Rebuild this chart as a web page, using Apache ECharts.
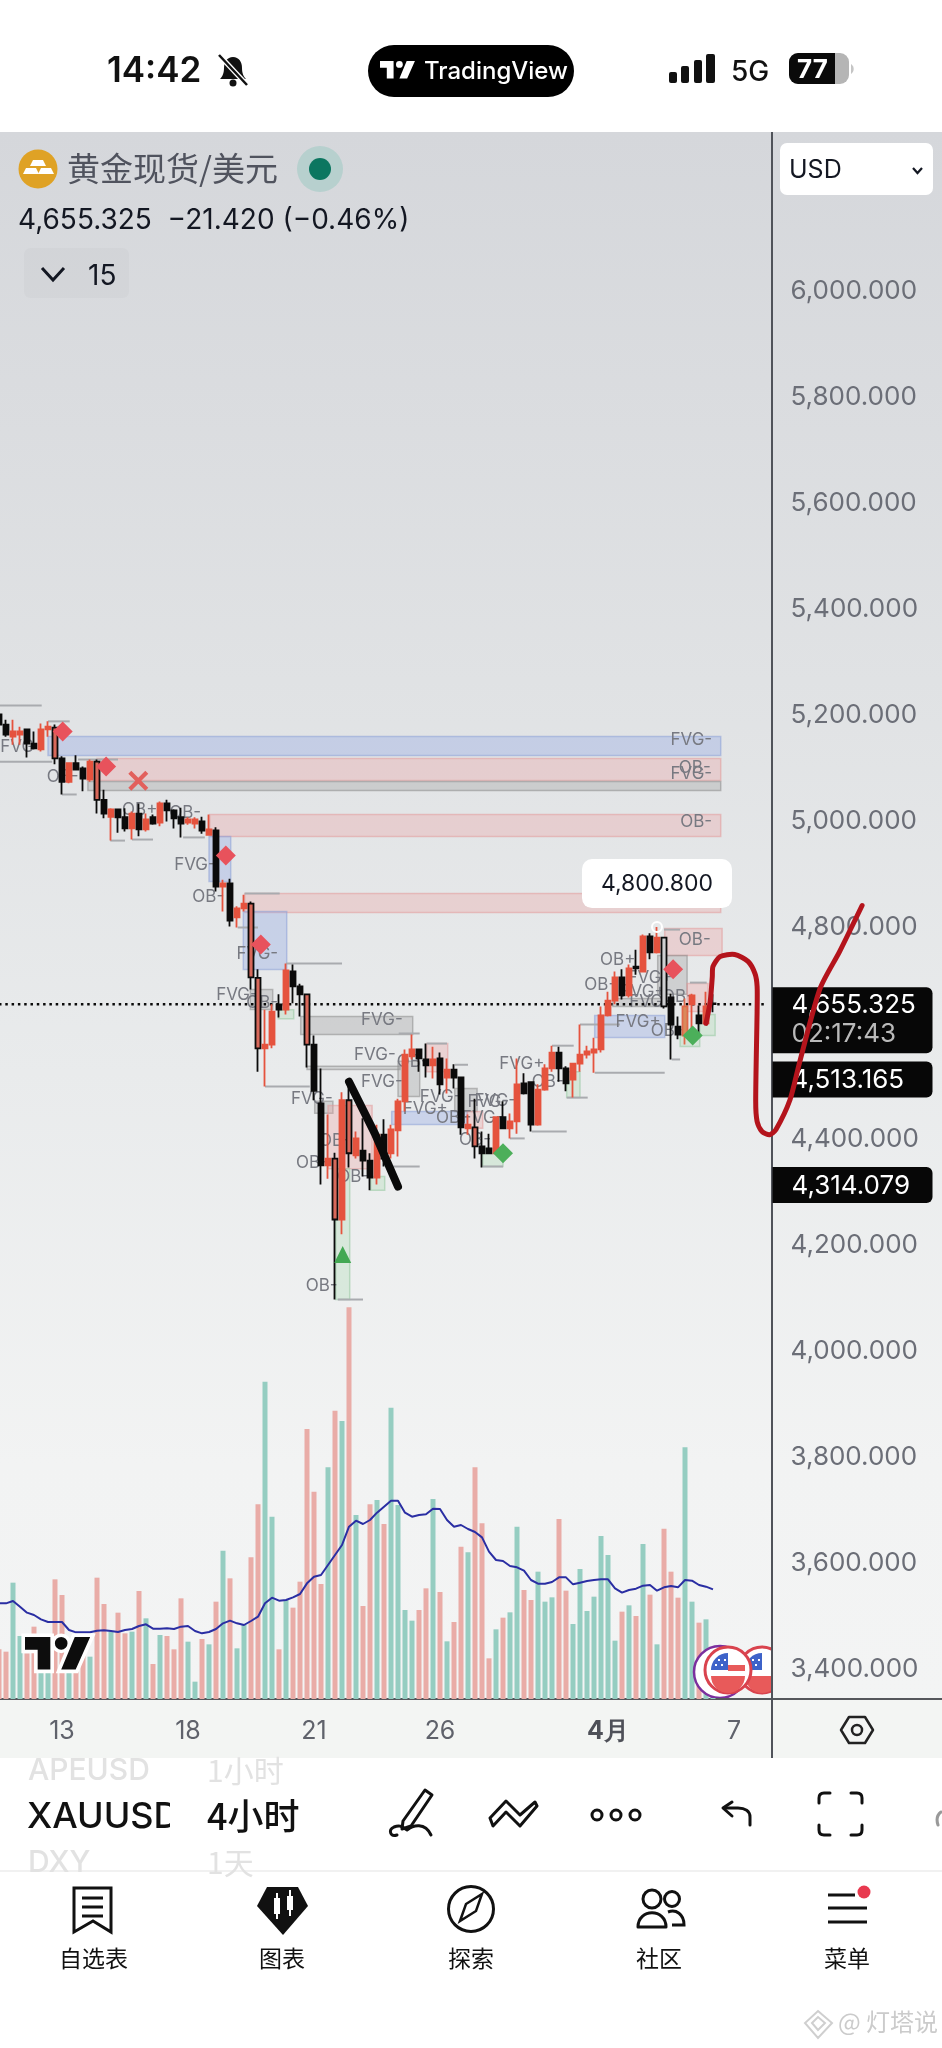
<!DOCTYPE html>
<html>
<head>
<meta charset="UTF-8">
<title>黄金现货/美元</title>
<style type="text/css">
html, body {
	margin: 0;
	padding: 0;
	background: #fff;
}
#page {
	position: relative;
	width: 942px;
	height: 2048px;
	overflow: hidden;
	font-family: Inter, "Noto Sans CJK SC", sans-serif;
}
#chartBg {
	position: absolute;
	left: 0;
	top: 132px;
	width: 942px;
	height: 1568px;
	background: linear-gradient(to bottom, #d5d7db 0%, #e0e2e4 35%, #e9ebec 60%, #f2f3f3 85%, #f3f4f4 100%);
}
#timeBg {
	position: absolute;
	left: 0;
	top: 1700px;
	width: 942px;
	height: 58px;
	background: #f3f5f3;
}
#axisV {
	position: absolute;
	left: 771px;
	top: 132px;
	width: 2px;
	height: 1626px;
	background: #50535a;
}
#axisH {
	position: absolute;
	left: 0;
	top: 1698px;
	width: 942px;
	height: 2px;
	background: #55575c;
}
#main {
	position: absolute;
	left: 0;
	top: 0;
	width: 942px;
	height: 2048px;
}
#icons {
	position: absolute;
	left: 0;
	top: 0;
}
.t {
	position: absolute;
	white-space: nowrap;
	line-height: 1;
}
</style>
</head>
<body>
<div id="page">
	<div id="chartBg"></div>
	<div id="timeBg"></div>
	<div id="axisH"></div>
	<div id="axisV"></div>
	<div id="main"></div>

	<!-- 图标层 -->
	<svg id="icons" width="942" height="2048" viewBox="0 0 942 2048">
		<defs>
			<clipPath id="flagClip"><rect x="680" y="1630" width="91" height="68"/></clipPath>
		</defs>
		<!-- 状态栏 -->
		<path d="M233 57c-6 0-9 5-9 11 0 6-2 9-4 11h26c-2-2-4-5-4-11 0-6-3-11-9-11z" fill="#111"/>
		<circle cx="233" cy="83" r="3.5" fill="#111"/>
		<line x1="220" y1="56" x2="248" y2="86" stroke="#fff" stroke-width="5"/>
		<line x1="219" y1="55" x2="247" y2="85" stroke="#111" stroke-width="2.5"/>
		<rect x="368" y="45" width="206" height="52" rx="26" fill="#000"/>
		<g fill="#fff" transform="translate(380,61) scale(0.97)">
			<path d="M14 18H7V7H0V0h14v18Z M28 18h-8L27.5 0H36l-8 18Z"/><circle cx="20" cy="3.5" r="3.5"/>
		</g>
		<g fill="#111">
			<rect x="669" y="72" width="8" height="11" rx="2"/>
			<rect x="681" y="66" width="8" height="17" rx="2"/>
			<rect x="694" y="60" width="8" height="23" rx="2"/>
			<rect x="706" y="54" width="9" height="29" rx="2"/>
		</g>
		<rect x="789" y="53" width="60" height="31" rx="9" fill="#b5b5b5"/>
		<path d="M798 53h37v31h-37a9 9 0 0 1-9-9v-13a9 9 0 0 1 9-9z" fill="#0a0a0a"/>
		<path d="M851 64a6 6 0 0 1 0 10z" fill="#c5c5c5"/>

		<!-- 品种图标 -->
		<circle cx="38" cy="169" r="19.5" fill="#dfa225"/>
		<g fill="#fff">
			<path d="M33 160h10l3 6H30z"/>
			<path d="M26 168h10l3 6H23z"/>
			<path d="M41 168h10l3 6H38z"/>
		</g>
		<circle cx="320" cy="169" r="23" fill="#b7d0ce"/>
		<circle cx="320" cy="169" r="11" fill="#0c7660"/>
		<rect x="24" y="248" width="105" height="50" rx="6" fill="#000" fill-opacity="0.02"/>
		<path d="M42 268l11 12 11-12" fill="none" stroke="#131722" stroke-width="3"/>
		<rect x="780" y="143" width="153" height="52" rx="7" fill="#fff"/>
		<path d="M913 168l4.500 5 4.500-5" fill="none" stroke="#131722" stroke-width="2.200"/>

		<!-- 时间轴右侧设置 -->
		<path d="M849 1717h16l8 13-8 13h-16l-8-13z" fill="none" stroke="#222" stroke-width="2.500" stroke-linejoin="round"/>
		<circle cx="857" cy="1730" r="5" fill="none" stroke="#222" stroke-width="2.500"/>

		<!-- 工具栏 -->
		<g fill="none" stroke="#111" stroke-width="3" stroke-linejoin="round" stroke-linecap="round">
			<path d="M403 1821l22-31 7 5-21 31-9 3z"/>
			<path d="M397 1835c-7 2-9-5-3-8 7-3 9 1 13 3 6-5 18-8 24 5"/>
			<path d="M490 1818l16-17 14 14 15-13 2 4-17 20-14-14-13 14z"/>
			<circle cx="597" cy="1815" r="5"/>
			<circle cx="616" cy="1815" r="5"/>
			<circle cx="635" cy="1815" r="5"/>
			<path d="M750 1825v-8c0-6-5-9-12-9h-14"/>
			<path d="M732 1802l-9 6 9 8"/>
			<path d="M819 1803v-5q0-5 5-5h6M851 1793h6q5 0 5 5v5M862 1825v5q0 5-5 5h-6M830 1835h-6q-5 0-5-5v-5"/>
			<path d="M938 1825c-2-6-1-10 3-13" stroke="#999"/>
		</g>
		<line x1="0" y1="1871" x2="942" y2="1871" stroke="#ededed" stroke-width="1.500"/>

		<!-- 底部导航 -->
		<g fill="none" stroke="#111" stroke-width="3">
			<path d="M74 1888h37v44l-18-11-19 11z"/>
			<path d="M82 1898h21M82 1907h21M82 1916h21"/>
			<circle cx="471" cy="1909" r="22.500"/>
			<path d="M460 1921l6-17 16-10-6 17z" stroke-width="2.500"/>
			<circle cx="652" cy="1899" r="9"/>
			<circle cx="672" cy="1899" r="7.500"/>
			<path d="M638 1927c0-19 28-19 28 0 0 0-28 0-28 0z" stroke-linejoin="round"/>
			<path d="M668 1912c8-3 16 2 16 13h-12"/>
			<path d="M828 1895h27M828 1908h39M828 1922h39"/>
		</g>
		<path d="M257 1906l10-19h31l10 19-25 29z" fill="#111"/>
		<g fill="#fff">
			<rect x="274" y="1898" width="6" height="16"/><rect x="276" y="1893" width="2" height="26"/>
			<rect x="287" y="1896" width="6" height="14"/><rect x="289" y="1890" width="2" height="26"/>
		</g>
		<circle cx="864" cy="1892" r="6.500" fill="#e8394f"/>

		<!-- 水印 -->
		<path d="M818 2011l14 12-14 15-13-15z M812 2023l6-6 7 6-7 7z" fill="none" stroke="#cfcfcf" stroke-width="2"/>

		<!-- TV 标记 -->
		<g transform="translate(25,1637) scale(1.810)">
			<path d="M14 18H7V7H0V0h14v18Z M28 18h-8L27.5 0H36l-8 18Z M23.500 3.500a3.500 3.500 0 1 1-7 0a3.500 3.500 0 1 1 7 0Z" fill="#0d0d0d" stroke="#fff" stroke-width="4" paint-order="stroke"/>
		</g>

		<!-- 事件图标 -->
		<g clip-path="url(#flagClip)">
			<circle cx="720" cy="1672" r="26" fill="#fff" stroke="#7b2f9e" stroke-width="2.500"/>
			<g>
				<circle cx="762" cy="1670" r="23" fill="#fff" stroke="#d9434e" stroke-width="3"/>
				<path d="M745 1676h34a17 17 0 0 1-34 0z" fill="#e85a5a"/>
				<path d="M745 1670a17 17 0 0 1 17-17v17z" fill="#3e63c9"/>
				<path d="M752 1659h2v2h-2zM758 1659h2v2h-2zM749 1664h2v2h-2zM755 1664h2v2h-2z" fill="#fff"/>
			</g>
			<g>
				<circle cx="728" cy="1670" r="23" fill="#fff" stroke="#d9434e" stroke-width="3"/>
				<path d="M711 1676h34a17 17 0 0 1-34 0z" fill="#e85a5a"/>
				<path d="M728 1665h17v6h-17z" fill="#e85a5a"/>
				<path d="M711 1670a17 17 0 0 1 17-17v17z" fill="#3e63c9"/>
				<path d="M718 1659h2v2h-2zM724 1659h2v2h-2zM715 1664h2v2h-2zM721 1664h2v2h-2z" fill="#fff"/>
			</g>
		</g>
	</svg>

	<!-- 文字层 -->
	<span class="t" style="left:107px;top:52px;font-size:35px;font-weight:600;color:#111">14:42</span>
	<span class="t" style="left:424px;top:59px;font-size:24px;font-weight:500;color:#fff">TradingView</span>
	<span class="t" style="left:731px;top:57px;font-size:28px;font-weight:500;color:#111">5G</span>
	<span class="t" style="left:797px;top:56px;font-size:26px;font-weight:700;color:#fff">77</span>
	<span class="t" style="left:67px;top:151px;font-size:33px;color:#50535e;font-family:'Noto Sans CJK SC'">黄金现货/美元</span>
	<span class="t" style="left:18px;top:205px;font-size:28px;color:#131722">4,655.325&nbsp;&nbsp;−21.420 (−0.46%)</span>
	<span class="t" style="left:88px;top:261px;font-size:28px;color:#131722">15</span>
	<span class="t" style="left:789px;top:157px;font-size:25px;color:#131722">USD</span>

	<span class="t" style="left:28px;top:1754px;font-size:30px;color:#e2e2e2;font-weight:500">APEUSD</span>
	<span class="t" style="left:207px;top:1754px;font-size:30px;color:#e2e2e2;font-family:'Noto Sans CJK SC'">1小时</span>
	<span class="t" style="left:27px;top:1797px;font-size:36px;color:#111;font-weight:500;width:143px;overflow:hidden">XAUUSD</span>
	<span class="t" style="left:207px;top:1796px;font-size:36px;color:#111;font-weight:500;font-family:'Noto Sans CJK SC'">4小时</span>
	<span class="t" style="left:28px;top:1846px;font-size:30px;color:#e2e2e2;font-weight:500">DXY</span>
	<span class="t" style="left:207px;top:1846px;font-size:30px;color:#e2e2e2;font-family:'Noto Sans CJK SC'">1天</span>

	<span class="t" style="left:59px;top:1946px;font-size:23px;color:#111;font-family:'Noto Sans CJK SC'">自选表</span>
	<span class="t" style="left:259px;top:1946px;font-size:23px;color:#111;font-family:'Noto Sans CJK SC'">图表</span>
	<span class="t" style="left:448px;top:1946px;font-size:23px;color:#111;font-family:'Noto Sans CJK SC'">探索</span>
	<span class="t" style="left:636px;top:1946px;font-size:23px;color:#111;font-family:'Noto Sans CJK SC'">社区</span>
	<span class="t" style="left:824px;top:1946px;font-size:23px;color:#111;font-family:'Noto Sans CJK SC'">菜单</span>
	<span class="t" style="left:838px;top:2009px;font-size:24px;color:#cbcbcb;font-family:'Noto Sans CJK SC'">@ 灯塔说</span>
</div>

<script type="text/javascript" src="https://cdn.jsdelivr.net/npm/echarts@6/dist/echarts.min.js"></script>
<script type="text/javascript">
	//K线数据 kind: 0红 1黑 2黑框红芯 3橙 4黑框浅芯
	var bodyTop = [
		5202,5183,5170,5170,5174,5147,5174,5179,5177,5119,
		5110,5110,5100,5113,5113,5041,5023,5023,5008,5015,
		5015,5004,5008,5034,5034,5021,5008,5004,5004,5000,
		4985,4983,4883,4883,4836,4845,4845,4705,4579,4641,
		4655,4719,4717,4689,4674,4579,4468,4364,4364,4474,
		4474,4402,4379,4360,4409,4409,4419,4472,4560,4570,
		4570,4551,4551,4553,4532,4532,4517,4428,4423,4387,
		4383,4442,4442,4434,4504,4506,4508,4494,4534,4564,
		4564,4534,4543,4560,4566,4570,4634,4662,4706,4706,
		4723,4726,4783,4783,4781,4781,4668,4613,4651,4672,
		4634,4651,4657
	];
	var bodyBottom = [
		5183,5164,5160,5164,5147,5138,5136,5174,5119,5075,
		5075,5098,5081,5079,5041,5015,5009,5008,4987,4987,
		4985,4985,4996,4998,5021,5006,4996,4998,4996,4983,
		4975,4877,4877,4813,4819,4836,4706,4572,4572,4579,
		4645,4645,4689,4674,4579,4492,4351,4351,4249,4249,
		4374,4370,4360,4328,4328,4364,4374,4417,4472,4557,
		4553,4540,4540,4504,4517,4517,4423,4421,4387,4374,
		4374,4374,4421,4421,4434,4487,4428,4428,4494,4534,
		4534,4506,4513,4543,4560,4564,4570,4634,4662,4672,
		4672,4723,4717,4753,4753,4651,4617,4598,4596,4655,
		4619,4619,4655.3
	];
	var wickHigh = [
		5202,5192,5192,5179,5174,5170,5185,5189,5183,5123,
		5110,5125,5104,5117,5117,5060,5025,5023,5025,5019,
		5034,5015,5013,5038,5041,5023,5026,5008,5008,5009,
		5013,4989,4890,4892,4840,4862,4849,4721,4645,4655,
		4674,4732,4730,4694,4674,4596,4534,4447,4375,4489,
		4500,4415,4440,4374,4428,4438,4428,4477,4570,4598,
		4570,4581,4575,4564,4553,4542,4517,4447,4477,4415,
		4411,4443,4472,4449,4553,4525,4509,4504,4542,4577,
		4575,4538,4543,4617,4577,4592,4651,4679,4717,4721,
		4730,4758,4787,4789,4800.8,4781,4675,4632,4666,4675,
		4653,4679,4674
	];
	var wickLow = [
		5181,5160,5145,5145,5121,5136,5132,5160,5108,5051,
		5072,5098,5057,5075,5015,5006,4964,4979,4981,4966,
		4972,4981,4994,4991,5000,4987,4970,4994,4987,4977,
		4975,4868,4830,4802,4800,4830,4683,4528,4500,4572,
		4630,4636,4657,4632,4536,4474,4315,4326,4098,4221,
		4347,4364,4330,4304,4315,4349,4364,4368,4453,4551,
		4528,4517,4515,4485,4487,4496,4409,4409,4364,4347,
		4374,4372,4421,4402,4411,4485,4415,4426,4492,4528,
		4509,4491,4479,4528,4553,4526,4564,4632,4655,4664,
		4668,4711,4715,4740,4751,4647,4551,4589,4579,4598,
		4598,4619,4640
	];
	var candleKind = [
		1,1,0,0,1,1,0,0,2,1,
		0,1,1,0,2,1,0,1,1,0,
		1,0,1,0,1,1,1,0,0,1,
		0,1,0,1,0,0,2,2,0,0,
		1,0,1,1,2,1,1,0,2,0,
		2,0,1,1,0,1,0,0,0,0,
		1,1,0,1,0,1,1,0,2,1,
		1,0,1,0,0,1,1,0,0,0,
		1,1,0,0,0,0,0,0,0,1,
		0,1,0,1,0,4,1,1,3,0,
		1,0,1
	];

	//成交量 volumeUp: 1粉 0绿
	var volumeValues = [
		149,142,349,189,137,217,107,100,359,312,
		150,100,130,127,364,285,202,259,197,202,
		324,242,105,192,189,149,302,172,52,180,
		164,292,445,362,152,222,425,584,952,547,
		149,297,274,352,810,622,345,695,865,834,
		1175,552,279,584,597,525,874,582,267,235,
		267,332,600,321,173,231,457,440,695,527,
		122,209,244,260,517,327,297,382,292,305,
		540,325,225,390,264,307,489,432,175,262,
		281,249,465,313,164,511,382,304,755,292,
		229,239,20
	];
	var volumeUp = [
		1,1,0,0,1,1,0,0,1,1,
		0,1,1,0,1,1,0,1,1,0,
		1,0,1,0,1,1,1,0,0,1,
		0,1,0,1,0,0,1,1,0,0,
		1,0,1,1,1,1,1,0,1,0,
		1,0,1,1,0,1,0,0,0,0,
		1,1,0,1,0,1,1,0,1,1,
		1,0,1,0,0,1,1,0,0,0,
		1,1,0,0,0,0,0,0,0,1,
		0,1,0,1,0,1,1,1,0,0,
		1,0,0
	];
	//成交量均线
	var volumeMa = [
		287,287,294,277,259,252,239,231,231,231,
		207,200,200,200,205,206,204,201,207,210,
		219,224,211,211,212,210,217,219,204,197,
		201,210,227,235,227,222,234,247,287,304,
		295,297,305,315,347,367,372,402,432,462,
		517,535,525,537,559,577,595,595,559,547,
		552,554,571,570,537,517,522,510,501,485,
		442,417,414,399,395,385,357,346,346,351,
		365,365,344,349,354,357,359,359,332,319,
		327,331,340,342,325,335,339,335,357,355,
		342,337,329
	];

	//坐标轴刻度
	var priceTicks = [3400,3600,3800,4000,4200,4400,4600,4800,5000,5200,5400,5600,5800,6000];
	var timeTickBar = [9,27,45,63,87,105];
	var timeTickText = ["13","18","21","26","4月","7"];
	var barSlots = 111;

	//价格标签
	var lastPrice = 4655.325;
	var countdownText = "02:17:43";
	var tagPrices = [4513.165, 4314.079];
	var highBar = 94;
	var highPrice = 4800.8;

	//区域 [起始bar, 结束bar, 上沿, 下沿, 类型] 0蓝 1红 2灰 3绿
	var zones = [
		[7,103.1,5160.5,5124.6,0],[14,103.1,5119,5077.4,1],[12.7,103.1,5075.5,5058.6,2],
		[30.1,103.1,5013,4971.8,1],[30,33.1,4971.8,4886.8,0],[35.1,103.1,4864,4828.3,1],
		[34.9,41.1,4830,4720.8,0],[35.9,39.1,4683,4645.3,2],[39.9,42.1,4645,4628,3],
		[43.1,59.1,4632,4598,2],[44,57.3,4538,4532,2],[45.1,47.7,4472,4449.4,2],
		[47,53.3,4464,4345,1],[48.1,50.1,4345,4098,3],[53.1,55.1,4330,4304,3],
		[57,60.1,4547.4,4481,2],[56.1,66.9,4453,4428.4,0],[61.1,64.1,4581,4528,1],
		[65.1,68.3,4496,4453,2],[66.9,69.1,4453,4421,1],[95.1,103.3,4798,4747,1],
		[94.1,98.3,4747,4674,2],[85.1,95.1,4634,4592.5,0],[87.7,95.4,4666,4651,2],
		[98.3,101.3,4694.4,4641.5,1],[97.3,100.1,4598,4575.5,3],[100.1,102.3,4636,4596,3],
		[81.1,83,4528,4479,3],[69.1,72,4383,4349,3]
	];
	//短水平线 [起始bar, 结束bar, 价格]
	var stubs = [
		[0,6.1,5219],[7,10.1,5189],[0,7.6,5113],[11.3,17,5117],[9,11.1,5051],[15.9,18,4964],
		[19,22,4966],[26.3,29.4,4970],[34.1,37,4800],[35.1,40.1,4864],[41,49,4732],[38,44.4,4500],
		[57.1,60.1,4600],[56.3,60.1,4349],[48.4,52,4098],[65.1,67,4541],[61.1,64,4581],[85.1,95.1,4526],
		[83,88.7,4617],[76.1,81.1,4415],[81.1,84.1,4479],[79,82.1,4577],[96.1,97.3,4551],[69.1,72,4349],
		[73,75.1,4402],[95,97.3,4796],[98.7,101.1,4696]
	];
	//FVG / OB 文字
	var noteBar = [
		98.9,99.4,98.9,99.6,99.4,2.6,9.1,20.1,26.6,28,29.9,36.9,34,37.6,
		54.7,53.7,54.7,44.7,44.7,48,50.6,46.1,59.1,63.1,60.9,64.7,69.1,68,69.9,
		74.7,78.4,70.9,88.4,85.9,93,92,93,97,91.3,95.4
	];
	var notePrice = [
		5154.8,5102,5089,5000,4777,5141.6,5085,5022.7,5017,4919,4858.5,4751,4673.6,4657,
		4626,4560,4509,4477,4355,4396.5,4330,4124,4547,4481,4458.5,4440,4440,4400,4470,
		4543,4509,4472,4738,4692.5,4704,4679,4660,4670,4621,4604
	];
	var noteText = [
		"FVG-","OB-","FVG-","OB-","OB-","FVG","OB-","OB+","OB-","FVG-","OB-","FVG-","FVG-","OB-",
		"FVG-","FVG-","FVG-","FVG-","OB-","OB-","OB-","OB-","OB-","FVG-","FVG+","OB-","FVG-","OB-","FVG-",
		"FVG+","OB-","FVG-","OB+","OB-","FVG+","FVG+","FVG-","OB-","FVG+","OB-"
	];
	//信号标记
	var redDiamonds = [[9.1,5170],[15.3,5104],[32.4,4936],[37.4,4768],[96.3,4721]];
	var greenDiamonds = [[72,4374],[99.1,4596]];
	var greenTriangles = [[49.1,4183]];
	var redCrosses = [[19.9,5077]];
	//手绘线
	var blackStroke = [[50,4509],[53.7,4411],[57,4311]];
	var redStroke = [
		[101,4619],[101.6,4660],[101.9,4707],[102,4726.5],[103,4745],[105.1,4749],[107,4736],
		[108,4713],[108.3,4689],[108.3,4642],[108.1,4472],[108.3,4434],[109,4415],[110.1,4409],
		[111,4419],[113,4475],[114.4,4547],[117.3,4685],[120.1,4755],[123.3,4841.5]
	];

	var zoneFill = [
		{ fill : 'rgba(150,170,230,0.38)', stroke : 'rgba(140,160,215,0.55)' },
		{ fill : 'rgba(235,160,160,0.32)', stroke : 'rgba(225,150,150,0.5)' },
		{ fill : 'rgba(150,150,150,0.3)', stroke : 'rgba(140,140,140,0.55)' },
		{ fill : 'rgba(160,215,170,0.28)', stroke : 'rgba(150,200,160,0.55)' }
	];
	var RED = '#e5533e';
	var labelFont = 'Inter, sans-serif';

	function candleItem(i) {
		var kind = candleKind[i];
		var value = kind == 0 || kind == 3
			? [ bodyBottom[i], bodyTop[i], wickLow[i], wickHigh[i] ]
			: [ bodyTop[i], bodyBottom[i], wickLow[i], wickHigh[i] ];
		var style;
		if (kind == 0) {
			style = { color : RED, borderColor : RED, borderColorDoji : RED };
		} else if (kind == 1) {
			style = { color0 : '#0b0b0b', borderColor0 : '#0b0b0b', borderColorDoji : '#0b0b0b' };
		} else if (kind == 2) {
			style = { color0 : '#d8685a', borderColor0 : '#0b0b0b' };
		} else if (kind == 3) {
			style = { color : '#d98a5c', borderColor : '#e0694a' };
		} else {
			style = { color0 : '#cfd0d2', borderColor0 : '#0b0b0b' };
		}
		return { value : value, itemStyle : style };
	}

	function buildCandles() {
		var list = [];
		for (var i = 0; i < bodyTop.length; i++) {
			list.push(candleItem(i));
		}
		return list;
	}

	function buildVolumes() {
		var list = [];
		for (var i = 0; i < volumeValues.length; i++) {
			list.push({
				value : volumeValues[i],
				itemStyle : { color : volumeUp[i] == 1 ? '#e9aca7' : '#95cdc1' }
			});
		}
		return list;
	}

	function buildCategories() {
		var list = [];
		for (var i = 0; i < barSlots; i++) {
			var pos = timeTickBar.indexOf(i);
			list.push(pos >= 0 ? timeTickText[pos] : '');
		}
		return list;
	}

	function renderZone(params, api) {
		var a = api.coord([ api.value(0), api.value(2) ]);
		var b = api.coord([ api.value(1), api.value(3) ]);
		var s = zoneFill[api.value(4)];
		return {
			type : 'rect',
			shape : { x : a[0], y : a[1], width : b[0] - a[0], height : b[1] - a[1] },
			style : { fill : s.fill, stroke : s.stroke, lineWidth : 1.5 }
		};
	}

	function renderStub(params, api) {
		var a = api.coord([ api.value(0), api.value(2) ]);
		var b = api.coord([ api.value(1), api.value(2) ]);
		return {
			type : 'line',
			shape : { x1 : a[0], y1 : a[1], x2 : b[0], y2 : b[1] },
			style : { stroke : '#a9abaf', lineWidth : 2 }
		};
	}

	function renderNote(params, api) {
		var p = api.coord([ api.value(0), api.value(1) ]);
		return {
			type : 'text',
			x : p[0],
			y : p[1],
			style : {
				text : noteText[params.dataIndex],
				fill : '#777981',
				font : '17px ' + labelFont,
				align : 'center',
				verticalAlign : 'middle'
			}
		};
	}

	//右侧黑色价格标签
	function renderTag(params, api) {
		var price = api.value(0);
		var y = api.coord([ 0, price ])[1];
		var x = api.coord([ barSlots - 0.5, price ])[0];
		var text = price.toLocaleString('en-US', { minimumFractionDigits : 3 });
		return {
			type : 'group',
			children : [ {
				type : 'rect',
				shape : { x : x, y : y - 18, width : 160, height : 36, r : [ 0, 6, 6, 0 ] },
				style : { fill : '#070707' }
			}, {
				type : 'text',
				x : x + 19,
				y : y + 1,
				style : { text : text, fill : '#fff', font : '26px ' + labelFont, verticalAlign : 'middle' }
			} ]
		};
	}

	function renderLastTag(params, api) {
		var y = api.coord([ 0, lastPrice ])[1];
		var x = api.coord([ barSlots - 0.5, lastPrice ])[0];
		return {
			type : 'group',
			children : [ {
				type : 'rect',
				shape : { x : x, y : y - 17, width : 160, height : 66, r : [ 0, 6, 6, 0 ] },
				style : { fill : '#070707' }
			}, {
				type : 'text',
				x : x + 19,
				y : y + 1,
				style : { text : '4,655.325', fill : '#fff', font : '26px ' + labelFont, verticalAlign : 'middle' }
			}, {
				type : 'text',
				x : x + 19,
				y : y + 30,
				style : { text : countdownText, fill : '#b9b9b9', font : '26px ' + labelFont, verticalAlign : 'middle' }
			} ]
		};
	}

	//最高价气泡
	function renderHigh(params, api) {
		var p = api.coord([ highBar, highPrice ]);
		return {
			type : 'group',
			children : [ {
				type : 'circle',
				shape : { cx : p[0], cy : p[1], r : 5 },
				style : { fill : 'none', stroke : '#fff', lineWidth : 2 }
			}, {
				type : 'rect',
				shape : { x : p[0] - 75, y : p[1] - 68, width : 150, height : 49, r : 10 },
				style : { fill : '#fff' }
			}, {
				type : 'text',
				x : p[0],
				y : p[1] - 43,
				style : { text : '4,800.800', fill : '#131722', font : '23px ' + labelFont, align : 'center', verticalAlign : 'middle' }
			} ]
		};
	}

	//红色手绘线要画出绘图区，自己算点
	function renderRedStroke(params, api) {
		var points = [];
		for (var i = 0; i < redStroke.length; i++) {
			points.push(api.coord(redStroke[i]));
		}
		return {
			type : 'polyline',
			shape : { points : points, smooth : 0.25 },
			style : { fill : 'none', stroke : '#b4141c', lineWidth : 5, lineCap : 'round', lineJoin : 'round' }
		};
	}

	function markerSeries(data, symbol, size, color) {
		return {
			type : 'scatter',
			xAxisIndex : 1,
			yAxisIndex : 0,
			symbol : symbol,
			symbolSize : size,
			itemStyle : { color : color, opacity : 1 },
			data : data,
			z : 6,
			silent : true
		};
	}

	var chart = echarts.init(document.getElementById('main'), null, { width : 942, height : 2048 });

	var option = {
		animation : false,
		backgroundColor : 'transparent',
		textStyle : { fontFamily : labelFont },
		grid : { left : -4.5, top : 132, width : 777, height : 1567, outerBoundsMode : 'none' },
		xAxis : [ {
			type : 'category',
			data : buildCategories(),
			boundaryGap : true,
			axisLine : { show : false },
			axisTick : { show : false },
			splitLine : { show : false },
			axisLabel : {
				interval : 0,
				margin : 19,
				hideOverlap : false,
				fontSize : 25,
				color : '#5f626b',
				lineHeight : 26,
				formatter : function(value) {
					return value.indexOf('月') >= 0 ? '{bold|' + value + '}' : value;
				},
				rich : {
					bold : { fontSize : 25, fontWeight : 'bold', color : '#4e5058' }
				}
			}
		}, {
			type : 'value',
			min : -0.5,
			max : barSlots - 0.5,
			show : false,
			splitLine : { show : false }
		} ],
		yAxis : [ {
			type : 'value',
			position : 'right',
			min : 3344.2,
			max : 6301.1,
			scale : true,
			axisLine : { show : false },
			axisTick : { show : false },
			splitLine : { show : false },
			axisLabel : {
				customValues : priceTicks,
				margin : 18,
				align : 'left',
				fontSize : 26,
				padding : [ 2, 0, 0, 0 ],
				color : '#6b6e77',
				formatter : function(value) {
					return value.toLocaleString('en-US', { minimumFractionDigits : 3 });
				}
			}
		}, {
			type : 'value',
			min : 0,
			max : 4701,
			show : false,
			splitLine : { show : false }
		} ],
		series : [ {
			name : 'volume',
			type : 'bar',
			xAxisIndex : 0,
			yAxisIndex : 1,
			barWidth : 5,
			data : buildVolumes(),
			z : 1,
			silent : true
		}, {
			name : 'volumeMa',
			type : 'line',
			xAxisIndex : 0,
			yAxisIndex : 1,
			showSymbol : false,
			lineStyle : { color : '#2a2ea3', width : 2 },
			data : volumeMa,
			z : 2,
			silent : true
		}, {
			name : 'zones',
			type : 'custom',
			xAxisIndex : 1,
			yAxisIndex : 0,
			renderItem : renderZone,
			data : zones,
			z : 3,
			silent : true
		}, {
			name : 'stubs',
			type : 'custom',
			xAxisIndex : 1,
			yAxisIndex : 0,
			renderItem : renderStub,
			data : stubs,
			z : 3,
			silent : true
		}, {
			name : 'notes',
			type : 'custom',
			xAxisIndex : 1,
			yAxisIndex : 0,
			renderItem : renderNote,
			data : noteBar.map(function(bar, i) {
				return [ bar, notePrice[i] ];
			}),
			z : 4,
			silent : true
		}, {
			name : 'lastLine',
			type : 'line',
			xAxisIndex : 1,
			yAxisIndex : 0,
			showSymbol : false,
			lineStyle : { color : '#0b0b0b', width : 2.5, type : [ 2.5, 3.8 ] },
			data : [ [ 0, lastPrice ], [ 109.5, lastPrice ] ],
			z : 4,
			silent : true
		}, {
			name : 'candles',
			type : 'candlestick',
			xAxisIndex : 0,
			yAxisIndex : 0,
			barWidth : 5,
			itemStyle : { borderWidth : 1.8 },
			data : buildCandles(),
			z : 5,
			silent : true
		},
		markerSeries(redDiamonds, 'diamond', 20, '#e8525c'),
		markerSeries(greenDiamonds, 'diamond', 20, '#4caf5a'),
		markerSeries(greenTriangles, 'triangle', 17, '#43a853'),
		markerSeries(redCrosses, 'path://M0 3L3 0L10 7L17 0L20 3L13 10L20 17L17 20L10 13L3 20L0 17L7 10Z', 20, '#e2605c'),
		{
			name : 'lastTag',
			type : 'custom',
			xAxisIndex : 1,
			yAxisIndex : 0,
			renderItem : renderLastTag,
			data : [ [ lastPrice ] ],
			clip : false,
			z : 7,
			silent : true
		}, {
			name : 'tags',
			type : 'custom',
			xAxisIndex : 1,
			yAxisIndex : 0,
			renderItem : renderTag,
			data : tagPrices.map(function(p) {
				return [ p ];
			}),
			clip : false,
			z : 7,
			silent : true
		}, {
			name : 'high',
			type : 'custom',
			xAxisIndex : 1,
			yAxisIndex : 0,
			renderItem : renderHigh,
			data : [ [ highPrice ] ],
			clip : false,
			z : 7,
			silent : true
		}, {
			name : 'blackStroke',
			type : 'line',
			xAxisIndex : 1,
			yAxisIndex : 0,
			showSymbol : false,
			lineStyle : { color : '#0a0a0a', width : 8, cap : 'round' },
			data : blackStroke,
			z : 8,
			silent : true
		}, {
			name : 'redStroke',
			type : 'custom',
			xAxisIndex : 1,
			yAxisIndex : 0,
			renderItem : renderRedStroke,
			data : [ [ 0 ] ],
			clip : false,
			z : 9,
			silent : true
		} ]
	};

	chart.setOption(option);
</script>
</body>
</html>
